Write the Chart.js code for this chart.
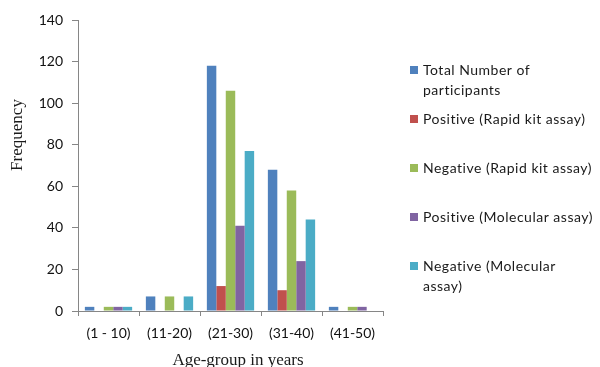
<!DOCTYPE html>
<html>
<head>
<meta charset="utf-8">
<script src="https://cdn.jsdelivr.net/npm/chart.js@4/dist/chart.umd.min.js"></script>
<style>
  html, body { margin: 0; padding: 0; background: #fff; }
  #wrap { width: 600px; height: 367px; position: relative; }
</style>
</head>
<body>
<div id="wrap"><canvas id="chart"></canvas></div>
<script>
const categories = ['(1 - 10)', '(11-20)', '(21-30)', '(31-40)', '(41-50)'];
const seriesNames = [
  'Total Number of\nparticipants',
  'Positive (Rapid kit assay)',
  'Negative (Rapid kit assay)',
  'Positive (Molecular assay)',
  'Negative (Molecular\nassay)'
];
const totalParticipants = [2, 7, 118, 68, 2];
const positiveRapid = [0, 0, 12, 10, 0];
const negativeRapid = [2, 7, 106, 58, 2];
const positiveMolecular = [2, 0, 41, 24, 2];
const negativeMolecular = [2, 7, 77, 44, 0];
const yTicks = [0, 20, 40, 60, 80, 100, 120, 140];

const colors = ['#4F81BD', '#C0504D', '#9BBB59', '#8064A2', '#4BACC6'];
const seriesValues = [totalParticipants, positiveRapid, negativeRapid, positiveMolecular, negativeMolecular];

const labelFont = 'Lato, "Open Sans", sans-serif';
const titleFont = '17px "Liberation Serif", "Times New Roman", serif';

// legend at the right and the two axis titles, drawn by hand
const sideLegend = {
  id: 'sideLegend',
  afterDraw(chart) {
    const ctx = chart.ctx;
    ctx.save();
    ctx.font = '14px ' + labelFont;
    ctx.letterSpacing = '0.5px';
    ctx.textBaseline = 'middle';
    ctx.textAlign = 'left';
    chart.data.datasets.forEach((ds, i) => {
      const y = 70 + i * 49;
      ctx.fillStyle = ds.backgroundColor;
      ctx.fillRect(410, y - 4, 8, 8);
      ctx.fillStyle = '#1a1a1a';
      ds.label.split('\n').forEach((line, j) => {
        ctx.fillText(line, 423, y + j * 20);
      });
    });
    ctx.letterSpacing = '0px';

    ctx.font = titleFont;
    ctx.fillStyle = '#1a1a1a';
    ctx.textAlign = 'center';
    ctx.fillText('Age-group in years', 238, 361);
    ctx.translate(18, 135);
    ctx.rotate(-Math.PI / 2);
    ctx.fillText('Frequency', 0, 0);
    ctx.restore();
  }
};

new Chart(document.getElementById('chart'), {
  type: 'bar',
  data: {
    labels: categories,
    datasets: seriesNames.map((name, i) => ({
      label: name,
      data: seriesValues[i],
      backgroundColor: colors[i],
      categoryPercentage: 0.775,
      barPercentage: 1
    }))
  },
  options: {
    responsive: true,
    maintainAspectRatio: false,
    animation: false,
    layout: { padding: { top: 20, right: 217, left: 0, bottom: 0 } },
    plugins: {
      legend: { display: false },
      tooltip: { enabled: false }
    },
    scales: {
      x: {
        afterFit: (scale) => { scale.height = 56; },
        grid: {
          display: true,
          drawOnChartArea: false,
          drawTicks: true,
          tickLength: 5,
          color: '#868686',
          offset: true
        },
        border: { color: '#868686', width: 1 },
        ticks: {
          color: '#111',
          font: { family: labelFont, size: 14 },
          padding: 9,
          maxRotation: 0
        }
      },
      y: {
        min: yTicks[0],
        max: yTicks[yTicks.length - 1],
        afterFit: (scale) => { scale.width = 78; },
        afterBuildTicks: (scale) => { scale.ticks = yTicks.map(v => ({ value: v })); },
        grid: {
          display: true,
          drawOnChartArea: false,
          drawTicks: true,
          tickLength: 6,
          color: '#868686'
        },
        border: { color: '#868686', width: 1 },
        ticks: {
          color: '#111',
          font: { family: labelFont, size: 14 },
          padding: 9
        }
      }
    }
  },
  plugins: [sideLegend]
});
</script>
</body>
</html>
